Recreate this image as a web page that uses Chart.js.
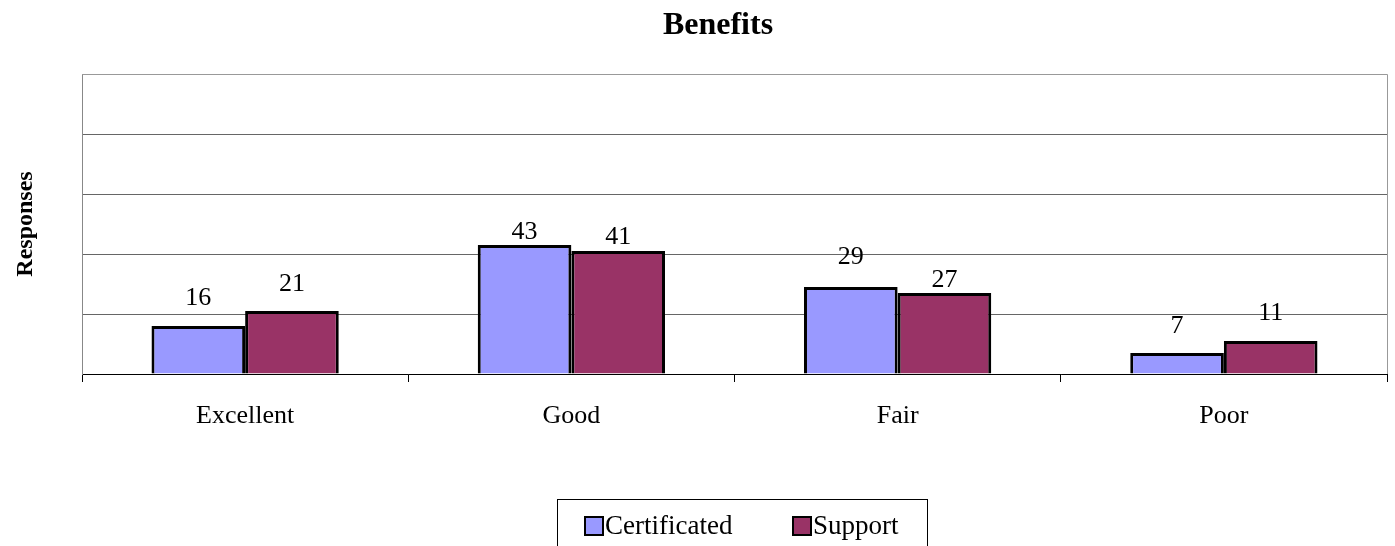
<!DOCTYPE html>
<html>
<head>
<meta charset="utf-8">
<title>Benefits</title>
<script src="https://cdn.jsdelivr.net/npm/chart.js@4"></script>
<style>
  html, body { margin: 0; padding: 0; background: #fff; }
  #wrap { width: 1395px; height: 546px; }
</style>
</head>
<body>
<div id="wrap"><canvas id="chart" width="1395" height="546"></canvas></div>
<script>
const categories = ['Excellent', 'Good', 'Fair', 'Poor'];
const certificated = [16, 43, 29, 7];
const support = [21, 41, 27, 11];
const chartTitle = 'Benefits';
const axisTitle = 'Responses';
// how far each value label sits above its bar (px), per dataset
const labelLift = [
  [28, 13, 30, 27],
  [27, 14, 13, 28]
];

const SERIF = "'Liberation Serif', 'Times New Roman', serif";

// bold heading, centred a little right of the canvas middle
const heading = {
  id: 'heading',
  afterDraw(chart, args, opts) {
    const { ctx } = chart;
    ctx.save();
    ctx.font = 'bold 32px ' + SERIF;
    ctx.fillStyle = '#000';
    ctx.textAlign = 'center';
    ctx.textBaseline = 'middle';
    ctx.fillText(opts.text, opts.x, opts.y);
    ctx.restore();
  }
};

// gray frame round the plot area (top and right edges)
const plotFrame = {
  id: 'plotFrame',
  beforeDatasetsDraw(chart) {
    const { ctx, chartArea: a } = chart;
    ctx.save();
    ctx.strokeStyle = '#999';
    ctx.lineWidth = 1;
    ctx.beginPath();
    ctx.moveTo(a.left, a.top + 0.5);
    ctx.lineTo(a.right + 0.5, a.top + 0.5);
    ctx.lineTo(a.right + 0.5, a.bottom);
    ctx.stroke();
    ctx.restore();
  }
};

// numbers above each bar
const valueLabels = {
  id: 'valueLabels',
  afterDatasetsDraw(chart) {
    const { ctx } = chart;
    ctx.save();
    ctx.font = '26px ' + SERIF;
    ctx.fillStyle = '#000';
    ctx.textAlign = 'center';
    ctx.textBaseline = 'middle';
    chart.data.datasets.forEach((ds, di) => {
      chart.getDatasetMeta(di).data.forEach((bar, i) => {
        ctx.fillText(String(ds.data[i]), bar.x, bar.y - labelLift[di][i]);
      });
    });
    ctx.restore();
  }
};

// boxed legend under the axis
const boxLegend = {
  id: 'boxLegend',
  afterDraw(chart, args, opts) {
    const { ctx } = chart;
    const x = opts.x, y = opts.y, w = opts.width, h = opts.height;
    ctx.save();
    ctx.strokeStyle = '#000';
    ctx.lineWidth = 1;
    ctx.strokeRect(x + 0.5, y + 0.5, w, h);
    ctx.font = '27px ' + SERIF;
    ctx.textBaseline = 'middle';
    ctx.textAlign = 'left';
    let cx = x + opts.inset;
    const cy = y + opts.rowY;
    chart.data.datasets.forEach((ds) => {
      ctx.fillStyle = ds.backgroundColor;
      ctx.fillRect(cx, cy - 9, 18, 18);
      ctx.lineWidth = 2;
      ctx.strokeStyle = '#000';
      ctx.strokeRect(cx, cy - 9, 18, 18);
      ctx.fillStyle = '#000';
      ctx.fillText(ds.label, cx + 20, cy + 1);
      cx += opts.step;
    });
    ctx.restore();
  }
};

new Chart(document.getElementById('chart'), {
  type: 'bar',
  data: {
    labels: categories,
    datasets: [
      {
        label: 'Certificated',
        data: certificated,
        backgroundColor: '#9999FF',
        borderColor: '#000',
        borderWidth: 3,
        categoryPercentage: 0.574,
        barPercentage: 1
      },
      {
        label: 'Support',
        data: support,
        backgroundColor: '#993366',
        borderColor: '#000',
        borderWidth: 3,
        categoryPercentage: 0.574,
        barPercentage: 1
      }
    ]
  },
  options: {
    responsive: false,
    animation: false,
    events: [],
    layout: { padding: { left: 0, right: 8, top: 74, bottom: 0 } },
    plugins: {
      legend: { display: false },
      tooltip: { enabled: false },
      title: { display: false },
      heading: { text: chartTitle, x: 718, y: 26 },
      boxLegend: { x: 557, y: 499, width: 370, height: 60, inset: 28, rowY: 27, step: 208 }
    },
    scales: {
      x: {
        grid: {
          drawOnChartArea: false,
          drawTicks: true,
          tickLength: 8,
          color: '#000'
        },
        border: { color: '#000', width: 1 },
        ticks: {
          color: '#000',
          font: { family: SERIF, size: 26 },
          padding: 19
        },
        afterFit(scale) { scale.height = 172; }
      },
      y: {
        min: 0,
        max: 100,
        ticks: { display: false, stepSize: 20 },
        grid: {
          drawTicks: false,
          color: (c) => (c.tick && c.tick.value === 100 ? '#999' : '#666')
        },
        border: { color: '#888', width: 1 },
        title: {
          display: true,
          text: axisTitle,
          color: '#000',
          font: { family: SERIF, size: 24, weight: 'bold' },
          padding: { top: 11, bottom: 0 }
        },
        afterFit(scale) { scale.width = 82; }
      }
    }
  },
  plugins: [heading, plotFrame, valueLabels, boxLegend]
});
</script>
</body>
</html>
